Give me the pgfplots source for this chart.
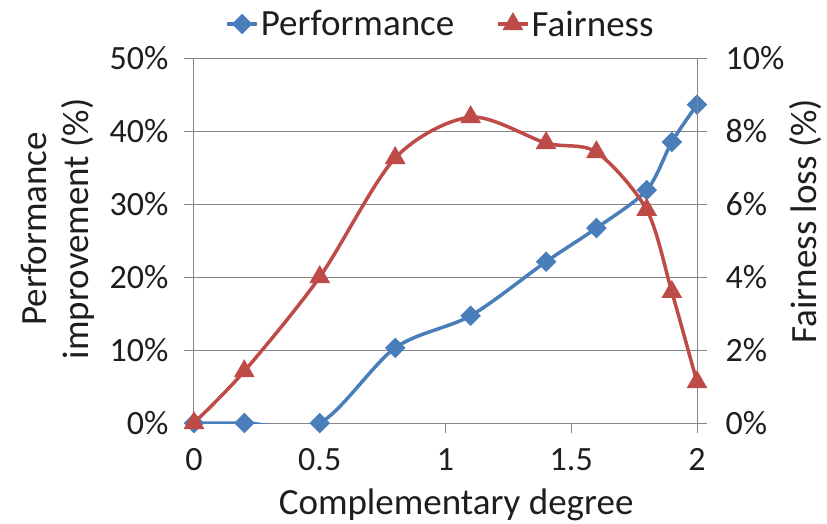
\documentclass[border=0pt]{standalone}
\usepackage{fontspec}
\setmainfont{Carlito}
\usepackage{pgfplots}
\pgfplotsset{compat=1.18}
\definecolor{perfblue}{RGB}{74,126,187}
\definecolor{fairred}{RGB}{190,75,72}
\definecolor{axgray}{RGB}{134,134,134}
\definecolor{txt}{RGB}{30,30,30}
\begin{document}
\begin{tikzpicture}
\useasboundingbox (-194pt,-100pt) rectangle (633pt,423pt);
\begin{axis}[
  at={(0,0)}, anchor=south west, scale only axis,
  width=503pt, height=365pt,
  xmin=0, xmax=2, ymin=0, ymax=50,
  xtick={0,0.5,1,1.5,2}, ytick={0,10,...,50},
  xtick pos=bottom, ytick pos=left, tick align=outside,
  major tick length=10pt,
  ymajorgrids, grid style={axgray, line width=1pt},
  axis line style={axgray, line width=1pt},
  tick style={axgray, line width=1pt},
  yticklabel={\pgfmathprintnumber{\tick}\%},
  /pgf/number format/assume math mode=true,
  tick label style={font=\fontsize{34}{40}\selectfont, text=txt},
  xticklabel style={yshift=-12pt},
  yticklabel style={xshift=-12pt},
  xlabel={Complementary degree},
  xlabel style={at={(axis description cs:0.521,-0.252)}, anchor=base, font=\fontsize{37}{42}\selectfont, text=txt},
  ylabel={Performance\\improvement (\%)},
  ylabel style={at={(axis description cs:-0.271,0.532)}, anchor=center, align=center, font=\fontsize{37}{42}\selectfont, text=txt},
  legend style={at={(axis description cs:0.49,1.093)}, anchor=center, draw=none, fill=none, legend columns=2,
    font=\fontsize{37}{42}\selectfont, text=txt, /tikz/every even column/.append style={column sep=40pt}},
  legend image code/.code={\draw[#1] (0pt,0pt) -- (30pt,0pt); \draw[#1, only marks] plot coordinates {(15pt,0pt)};},
]
\addplot[perfblue, line width=3.5pt, smooth, tension=0.5, mark=square*, mark size=5.5pt, mark options={rotate=45, solid}]
  coordinates {(0,0) (0.2,0) (0.5,0) (0.8,10.3) (1.1,14.7) (1.4,22.1) (1.6,26.7) (1.8,31.9) (1.9,38.5) (2,43.6)};
\addlegendentry{Performance}
\addlegendimage{fairred, line width=3.5pt, mark=triangle*, mark size=8.5pt, mark options={solid}}
\addlegendentry{Fairness}
\end{axis}
\begin{axis}[
  at={(0,0)}, anchor=south west, scale only axis,
  width=503pt, height=365pt,
  xmin=0, xmax=2, ymin=0, ymax=10,
  axis x line=none, axis y line*=right,
  ytick={0,2,...,10}, tick align=outside, major tick length=10pt,
  axis line style={axgray, line width=1pt},
  tick style={axgray, line width=1pt},
  yticklabel={\pgfmathprintnumber{\tick}\%},
  /pgf/number format/assume math mode=true,
  tick label style={font=\fontsize{34}{40}\selectfont, text=txt},
  yticklabel style={xshift=15pt},
  ylabel={Fairness loss (\%)},
  ylabel style={at={(axis description cs:1.216,0.553)}, anchor=center, rotate=0, font=\fontsize{37}{42}\selectfont, text=txt},
]
\addplot[fairred, line width=3.5pt, smooth, tension=0.5, mark=triangle*, mark size=8.5pt, mark options={solid}]
  coordinates {(0,0) (0.2,1.42) (0.5,4.0) (0.8,7.26) (1.1,8.38) (1.4,7.67) (1.6,7.42) (1.8,5.84) (1.9,3.59) (2,1.12)};
\end{axis}
\end{tikzpicture}
\end{document}
